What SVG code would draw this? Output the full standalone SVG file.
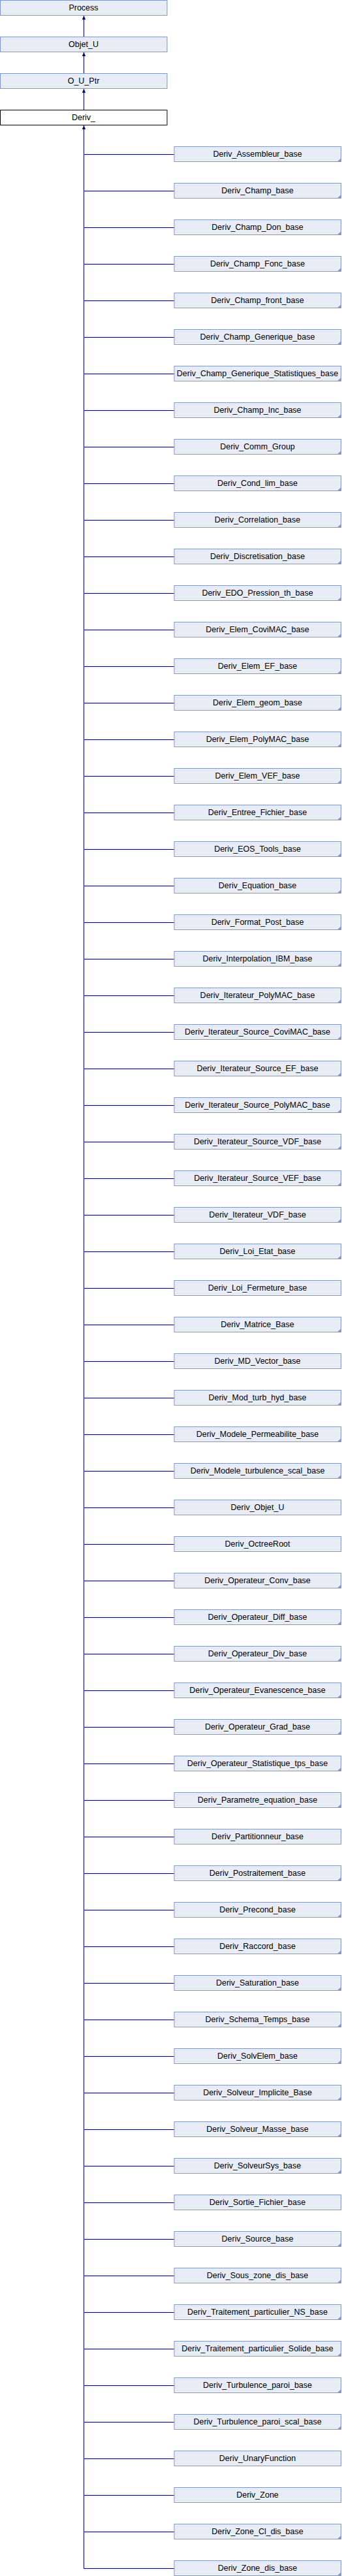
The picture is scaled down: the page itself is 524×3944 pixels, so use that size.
<svg xmlns="http://www.w3.org/2000/svg" xmlns:xlink="http://www.w3.org/1999/xlink" width="524" height="3944" viewBox="0 0 524 3944">
<style>
.b{fill:#e8ecf4;stroke:#8298cc;stroke-width:1}
.r{fill:#ffffff;stroke:#000000;stroke-width:1}
.t{font-family:"Liberation Sans",Arial,sans-serif;font-size:12.5px;fill:#000000;text-anchor:middle}
.f{fill:#8298cc}
.c{fill:none;stroke:#000080;stroke-width:1}
.a{fill:#000080}
</style>
<defs>
<polygon id="arr" class="a" points="0,0 -2.6,6 2.6,6"/>
<polygon id="fold" class="f" points="523,241.5 523,248 516.5,248"/>
</defs>
<rect width="524" height="3944" fill="#ffffff"/>
<g id="edges">
<path class="c" d="M128.5 24V56M128.5 80V112M128.5 136V168M128.5 192V3932.5"/>
<path class="c" d="M128.5 236.5H267M128.5 292.5H267M128.5 348.5H267M128.5 404.5H267M128.5 460.5H267M128.5 516.5H267M128.5 572.5H267M128.5 628.5H267M128.5 684.5H267M128.5 740.5H267M128.5 796.5H267M128.5 852.5H267M128.5 908.5H267M128.5 964.5H267M128.5 1020.5H267M128.5 1076.5H267M128.5 1132.5H267M128.5 1188.5H267M128.5 1244.5H267M128.5 1300.5H267M128.5 1356.5H267M128.5 1412.5H267M128.5 1468.5H267M128.5 1524.5H267M128.5 1580.5H267M128.5 1636.5H267M128.5 1692.5H267M128.5 1748.5H267M128.5 1804.5H267M128.5 1860.5H267M128.5 1916.5H267M128.5 1972.5H267M128.5 2028.5H267M128.5 2084.5H267M128.5 2140.5H267M128.5 2196.5H267M128.5 2252.5H267M128.5 2308.5H267M128.5 2364.5H267M128.5 2420.5H267M128.5 2476.5H267M128.5 2532.5H267M128.5 2588.5H267M128.5 2644.5H267M128.5 2700.5H267M128.5 2756.5H267M128.5 2812.5H267M128.5 2868.5H267M128.5 2924.5H267M128.5 2980.5H267M128.5 3036.5H267M128.5 3092.5H267M128.5 3148.5H267M128.5 3204.5H267M128.5 3260.5H267M128.5 3316.5H267M128.5 3372.5H267M128.5 3428.5H267M128.5 3484.5H267M128.5 3540.5H267M128.5 3596.5H267M128.5 3652.5H267M128.5 3708.5H267M128.5 3764.5H267M128.5 3820.5H267M128.5 3876.5H267M128.5 3932.5H267"/>
<use xlink:href="#arr" x="128.5" y="24"/>
<use xlink:href="#arr" x="128.5" y="80"/>
<use xlink:href="#arr" x="128.5" y="136"/>
<use xlink:href="#arr" x="128.5" y="192"/>
</g>
<g id="process"><rect class="b" x="0.5" y="0.5" width="255.5" height="23"/><text class="t" x="128" y="15.5">Process</text></g>
<g id="objet_u"><rect class="b" x="0.5" y="56.5" width="255.5" height="23"/><text class="t" x="128" y="71.5">Objet_U</text></g>
<g id="o_u_ptr"><rect class="b" x="0.5" y="112.5" width="255.5" height="23"/><text class="t" x="128" y="127.5">O_U_Ptr</text></g>
<g id="deriv_"><rect class="r" x="0.5" y="168.5" width="255.5" height="23"/><text class="t" x="128" y="183.5">Deriv_</text></g>
<g id="n0" transform="translate(0,0)"><rect class="b" x="267" y="224.5" width="255.5" height="23"/><text class="t" x="394.5" y="239.5">Deriv_Assembleur_base</text><use xlink:href="#fold"/></g>
<g id="n1" transform="translate(0,56)"><rect class="b" x="267" y="224.5" width="255.5" height="23"/><text class="t" x="394.5" y="239.5">Deriv_Champ_base</text><use xlink:href="#fold"/></g>
<g id="n2" transform="translate(0,112)"><rect class="b" x="267" y="224.5" width="255.5" height="23"/><text class="t" x="394.5" y="239.5">Deriv_Champ_Don_base</text><use xlink:href="#fold"/></g>
<g id="n3" transform="translate(0,168)"><rect class="b" x="267" y="224.5" width="255.5" height="23"/><text class="t" x="394.5" y="239.5">Deriv_Champ_Fonc_base</text><use xlink:href="#fold"/></g>
<g id="n4" transform="translate(0,224)"><rect class="b" x="267" y="224.5" width="255.5" height="23"/><text class="t" x="394.5" y="239.5">Deriv_Champ_front_base</text><use xlink:href="#fold"/></g>
<g id="n5" transform="translate(0,280)"><rect class="b" x="267" y="224.5" width="255.5" height="23"/><text class="t" x="394.5" y="239.5">Deriv_Champ_Generique_base</text><use xlink:href="#fold"/></g>
<g id="n6" transform="translate(0,336)"><rect class="b" x="267" y="224.5" width="255.5" height="23"/><text class="t" x="394.5" y="239.5">Deriv_Champ_Generique_Statistiques_base</text><use xlink:href="#fold"/></g>
<g id="n7" transform="translate(0,392)"><rect class="b" x="267" y="224.5" width="255.5" height="23"/><text class="t" x="394.5" y="239.5">Deriv_Champ_Inc_base</text><use xlink:href="#fold"/></g>
<g id="n8" transform="translate(0,448)"><rect class="b" x="267" y="224.5" width="255.5" height="23"/><text class="t" x="394.5" y="239.5">Deriv_Comm_Group</text><use xlink:href="#fold"/></g>
<g id="n9" transform="translate(0,504)"><rect class="b" x="267" y="224.5" width="255.5" height="23"/><text class="t" x="394.5" y="239.5">Deriv_Cond_lim_base</text><use xlink:href="#fold"/></g>
<g id="n10" transform="translate(0,560)"><rect class="b" x="267" y="224.5" width="255.5" height="23"/><text class="t" x="394.5" y="239.5">Deriv_Correlation_base</text><use xlink:href="#fold"/></g>
<g id="n11" transform="translate(0,616)"><rect class="b" x="267" y="224.5" width="255.5" height="23"/><text class="t" x="394.5" y="239.5">Deriv_Discretisation_base</text><use xlink:href="#fold"/></g>
<g id="n12" transform="translate(0,672)"><rect class="b" x="267" y="224.5" width="255.5" height="23"/><text class="t" x="394.5" y="239.5">Deriv_EDO_Pression_th_base</text><use xlink:href="#fold"/></g>
<g id="n13" transform="translate(0,728)"><rect class="b" x="267" y="224.5" width="255.5" height="23"/><text class="t" x="394.5" y="239.5">Deriv_Elem_CoviMAC_base</text><use xlink:href="#fold"/></g>
<g id="n14" transform="translate(0,784)"><rect class="b" x="267" y="224.5" width="255.5" height="23"/><text class="t" x="394.5" y="239.5">Deriv_Elem_EF_base</text><use xlink:href="#fold"/></g>
<g id="n15" transform="translate(0,840)"><rect class="b" x="267" y="224.5" width="255.5" height="23"/><text class="t" x="394.5" y="239.5">Deriv_Elem_geom_base</text><use xlink:href="#fold"/></g>
<g id="n16" transform="translate(0,896)"><rect class="b" x="267" y="224.5" width="255.5" height="23"/><text class="t" x="394.5" y="239.5">Deriv_Elem_PolyMAC_base</text><use xlink:href="#fold"/></g>
<g id="n17" transform="translate(0,952)"><rect class="b" x="267" y="224.5" width="255.5" height="23"/><text class="t" x="394.5" y="239.5">Deriv_Elem_VEF_base</text><use xlink:href="#fold"/></g>
<g id="n18" transform="translate(0,1008)"><rect class="b" x="267" y="224.5" width="255.5" height="23"/><text class="t" x="394.5" y="239.5">Deriv_Entree_Fichier_base</text><use xlink:href="#fold"/></g>
<g id="n19" transform="translate(0,1064)"><rect class="b" x="267" y="224.5" width="255.5" height="23"/><text class="t" x="394.5" y="239.5">Deriv_EOS_Tools_base</text><use xlink:href="#fold"/></g>
<g id="n20" transform="translate(0,1120)"><rect class="b" x="267" y="224.5" width="255.5" height="23"/><text class="t" x="394.5" y="239.5">Deriv_Equation_base</text><use xlink:href="#fold"/></g>
<g id="n21" transform="translate(0,1176)"><rect class="b" x="267" y="224.5" width="255.5" height="23"/><text class="t" x="394.5" y="239.5">Deriv_Format_Post_base</text><use xlink:href="#fold"/></g>
<g id="n22" transform="translate(0,1232)"><rect class="b" x="267" y="224.5" width="255.5" height="23"/><text class="t" x="394.5" y="239.5">Deriv_Interpolation_IBM_base</text><use xlink:href="#fold"/></g>
<g id="n23" transform="translate(0,1288)"><rect class="b" x="267" y="224.5" width="255.5" height="23"/><text class="t" x="394.5" y="239.5">Deriv_Iterateur_PolyMAC_base</text><use xlink:href="#fold"/></g>
<g id="n24" transform="translate(0,1344)"><rect class="b" x="267" y="224.5" width="255.5" height="23"/><text class="t" x="394.5" y="239.5">Deriv_Iterateur_Source_CoviMAC_base</text><use xlink:href="#fold"/></g>
<g id="n25" transform="translate(0,1400)"><rect class="b" x="267" y="224.5" width="255.5" height="23"/><text class="t" x="394.5" y="239.5">Deriv_Iterateur_Source_EF_base</text><use xlink:href="#fold"/></g>
<g id="n26" transform="translate(0,1456)"><rect class="b" x="267" y="224.5" width="255.5" height="23"/><text class="t" x="394.5" y="239.5">Deriv_Iterateur_Source_PolyMAC_base</text><use xlink:href="#fold"/></g>
<g id="n27" transform="translate(0,1512)"><rect class="b" x="267" y="224.5" width="255.5" height="23"/><text class="t" x="394.5" y="239.5">Deriv_Iterateur_Source_VDF_base</text><use xlink:href="#fold"/></g>
<g id="n28" transform="translate(0,1568)"><rect class="b" x="267" y="224.5" width="255.5" height="23"/><text class="t" x="394.5" y="239.5">Deriv_Iterateur_Source_VEF_base</text><use xlink:href="#fold"/></g>
<g id="n29" transform="translate(0,1624)"><rect class="b" x="267" y="224.5" width="255.5" height="23"/><text class="t" x="394.5" y="239.5">Deriv_Iterateur_VDF_base</text><use xlink:href="#fold"/></g>
<g id="n30" transform="translate(0,1680)"><rect class="b" x="267" y="224.5" width="255.5" height="23"/><text class="t" x="394.5" y="239.5">Deriv_Loi_Etat_base</text><use xlink:href="#fold"/></g>
<g id="n31" transform="translate(0,1736)"><rect class="b" x="267" y="224.5" width="255.5" height="23"/><text class="t" x="394.5" y="239.5">Deriv_Loi_Fermeture_base</text></g>
<g id="n32" transform="translate(0,1792)"><rect class="b" x="267" y="224.5" width="255.5" height="23"/><text class="t" x="394.5" y="239.5">Deriv_Matrice_Base</text><use xlink:href="#fold"/></g>
<g id="n33" transform="translate(0,1848)"><rect class="b" x="267" y="224.5" width="255.5" height="23"/><text class="t" x="394.5" y="239.5">Deriv_MD_Vector_base</text></g>
<g id="n34" transform="translate(0,1904)"><rect class="b" x="267" y="224.5" width="255.5" height="23"/><text class="t" x="394.5" y="239.5">Deriv_Mod_turb_hyd_base</text><use xlink:href="#fold"/></g>
<g id="n35" transform="translate(0,1960)"><rect class="b" x="267" y="224.5" width="255.5" height="23"/><text class="t" x="394.5" y="239.5">Deriv_Modele_Permeabilite_base</text><use xlink:href="#fold"/></g>
<g id="n36" transform="translate(0,2016)"><rect class="b" x="267" y="224.5" width="255.5" height="23"/><text class="t" x="394.5" y="239.5">Deriv_Modele_turbulence_scal_base</text><use xlink:href="#fold"/></g>
<g id="n37" transform="translate(0,2072)"><rect class="b" x="267" y="224.5" width="255.5" height="23"/><text class="t" x="394.5" y="239.5">Deriv_Objet_U</text></g>
<g id="n38" transform="translate(0,2128)"><rect class="b" x="267" y="224.5" width="255.5" height="23"/><text class="t" x="394.5" y="239.5">Deriv_OctreeRoot</text></g>
<g id="n39" transform="translate(0,2184)"><rect class="b" x="267" y="224.5" width="255.5" height="23"/><text class="t" x="394.5" y="239.5">Deriv_Operateur_Conv_base</text><use xlink:href="#fold"/></g>
<g id="n40" transform="translate(0,2240)"><rect class="b" x="267" y="224.5" width="255.5" height="23"/><text class="t" x="394.5" y="239.5">Deriv_Operateur_Diff_base</text><use xlink:href="#fold"/></g>
<g id="n41" transform="translate(0,2296)"><rect class="b" x="267" y="224.5" width="255.5" height="23"/><text class="t" x="394.5" y="239.5">Deriv_Operateur_Div_base</text><use xlink:href="#fold"/></g>
<g id="n42" transform="translate(0,2352)"><rect class="b" x="267" y="224.5" width="255.5" height="23"/><text class="t" x="394.5" y="239.5">Deriv_Operateur_Evanescence_base</text><use xlink:href="#fold"/></g>
<g id="n43" transform="translate(0,2408)"><rect class="b" x="267" y="224.5" width="255.5" height="23"/><text class="t" x="394.5" y="239.5">Deriv_Operateur_Grad_base</text><use xlink:href="#fold"/></g>
<g id="n44" transform="translate(0,2464)"><rect class="b" x="267" y="224.5" width="255.5" height="23"/><text class="t" x="394.5" y="239.5">Deriv_Operateur_Statistique_tps_base</text><use xlink:href="#fold"/></g>
<g id="n45" transform="translate(0,2520)"><rect class="b" x="267" y="224.5" width="255.5" height="23"/><text class="t" x="394.5" y="239.5">Deriv_Parametre_equation_base</text><use xlink:href="#fold"/></g>
<g id="n46" transform="translate(0,2576)"><rect class="b" x="267" y="224.5" width="255.5" height="23"/><text class="t" x="394.5" y="239.5">Deriv_Partitionneur_base</text></g>
<g id="n47" transform="translate(0,2632)"><rect class="b" x="267" y="224.5" width="255.5" height="23"/><text class="t" x="394.5" y="239.5">Deriv_Postraitement_base</text><use xlink:href="#fold"/></g>
<g id="n48" transform="translate(0,2688)"><rect class="b" x="267" y="224.5" width="255.5" height="23"/><text class="t" x="394.5" y="239.5">Deriv_Precond_base</text><use xlink:href="#fold"/></g>
<g id="n49" transform="translate(0,2744)"><rect class="b" x="267" y="224.5" width="255.5" height="23"/><text class="t" x="394.5" y="239.5">Deriv_Raccord_base</text><use xlink:href="#fold"/></g>
<g id="n50" transform="translate(0,2800)"><rect class="b" x="267" y="224.5" width="255.5" height="23"/><text class="t" x="394.5" y="239.5">Deriv_Saturation_base</text><use xlink:href="#fold"/></g>
<g id="n51" transform="translate(0,2856)"><rect class="b" x="267" y="224.5" width="255.5" height="23"/><text class="t" x="394.5" y="239.5">Deriv_Schema_Temps_base</text><use xlink:href="#fold"/></g>
<g id="n52" transform="translate(0,2912)"><rect class="b" x="267" y="224.5" width="255.5" height="23"/><text class="t" x="394.5" y="239.5">Deriv_SolvElem_base</text><use xlink:href="#fold"/></g>
<g id="n53" transform="translate(0,2968)"><rect class="b" x="267" y="224.5" width="255.5" height="23"/><text class="t" x="394.5" y="239.5">Deriv_Solveur_Implicite_Base</text><use xlink:href="#fold"/></g>
<g id="n54" transform="translate(0,3024)"><rect class="b" x="267" y="224.5" width="255.5" height="23"/><text class="t" x="394.5" y="239.5">Deriv_Solveur_Masse_base</text><use xlink:href="#fold"/></g>
<g id="n55" transform="translate(0,3080)"><rect class="b" x="267" y="224.5" width="255.5" height="23"/><text class="t" x="394.5" y="239.5">Deriv_SolveurSys_base</text><use xlink:href="#fold"/></g>
<g id="n56" transform="translate(0,3136)"><rect class="b" x="267" y="224.5" width="255.5" height="23"/><text class="t" x="394.5" y="239.5">Deriv_Sortie_Fichier_base</text></g>
<g id="n57" transform="translate(0,3192)"><rect class="b" x="267" y="224.5" width="255.5" height="23"/><text class="t" x="394.5" y="239.5">Deriv_Source_base</text><use xlink:href="#fold"/></g>
<g id="n58" transform="translate(0,3248)"><rect class="b" x="267" y="224.5" width="255.5" height="23"/><text class="t" x="394.5" y="239.5">Deriv_Sous_zone_dis_base</text><use xlink:href="#fold"/></g>
<g id="n59" transform="translate(0,3304)"><rect class="b" x="267" y="224.5" width="255.5" height="23"/><text class="t" x="394.5" y="239.5">Deriv_Traitement_particulier_NS_base</text><use xlink:href="#fold"/></g>
<g id="n60" transform="translate(0,3360)"><rect class="b" x="267" y="224.5" width="255.5" height="23"/><text class="t" x="394.5" y="239.5">Deriv_Traitement_particulier_Solide_base</text><use xlink:href="#fold"/></g>
<g id="n61" transform="translate(0,3416)"><rect class="b" x="267" y="224.5" width="255.5" height="23"/><text class="t" x="394.5" y="239.5">Deriv_Turbulence_paroi_base</text><use xlink:href="#fold"/></g>
<g id="n62" transform="translate(0,3472)"><rect class="b" x="267" y="224.5" width="255.5" height="23"/><text class="t" x="394.5" y="239.5">Deriv_Turbulence_paroi_scal_base</text><use xlink:href="#fold"/></g>
<g id="n63" transform="translate(0,3528)"><rect class="b" x="267" y="224.5" width="255.5" height="23"/><text class="t" x="394.5" y="239.5">Deriv_UnaryFunction</text></g>
<g id="n64" transform="translate(0,3584)"><rect class="b" x="267" y="224.5" width="255.5" height="23"/><text class="t" x="394.5" y="239.5">Deriv_Zone</text></g>
<g id="n65" transform="translate(0,3640)"><rect class="b" x="267" y="224.5" width="255.5" height="23"/><text class="t" x="394.5" y="239.5">Deriv_Zone_Cl_dis_base</text><use xlink:href="#fold"/></g>
<g id="n66" transform="translate(0,3696)"><rect class="b" x="267" y="224.5" width="255.5" height="23"/><text class="t" x="394.5" y="239.5">Deriv_Zone_dis_base</text><use xlink:href="#fold"/></g>
</svg>
